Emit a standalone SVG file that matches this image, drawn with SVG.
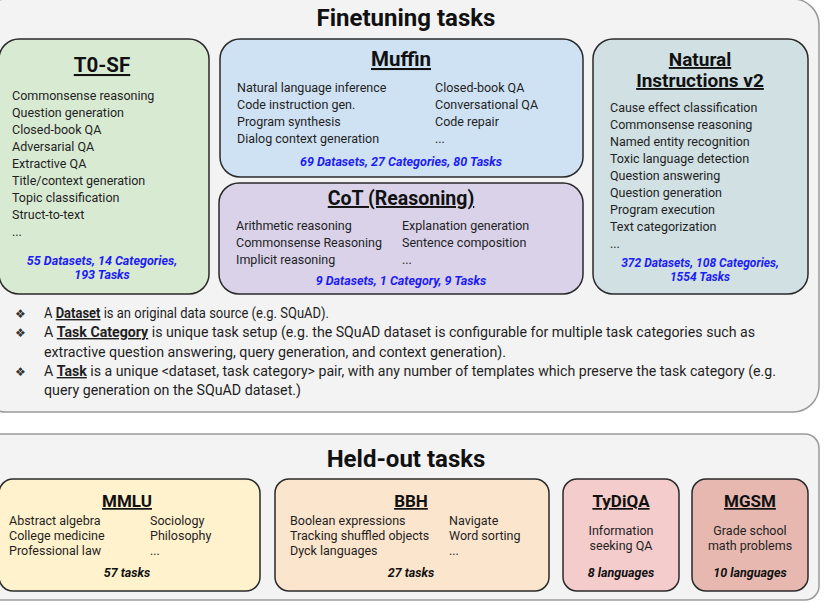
<svg xmlns="http://www.w3.org/2000/svg" width="826" height="603" viewBox="0 0 826 603">
<style>
text{font-family:Roboto,"Liberation Sans",Arial,sans-serif;fill:#1f1f1f}
.panel{fill:#f3f3f3;stroke:#9a9a9a;stroke-width:1.5}
.box{stroke:#2a2a2a;stroke-width:1.5}
.h1{font-size:24px;font-weight:bold;text-anchor:middle;fill:#111}
.h2{font-size:20.5px;font-weight:bold;text-anchor:middle;text-decoration:underline;fill:#111}
.h3{font-size:17px;font-weight:bold;text-anchor:middle;text-decoration:underline;fill:#111}
.it{font-size:12.5px}
.st{font-size:12.5px;font-weight:bold;font-style:italic;fill:#1c1cf5;text-anchor:middle}
.bt{font-size:14px}
.b{font-weight:bold;text-decoration:underline}
.bul{font-family:"DejaVu Sans",sans-serif;font-size:12px;fill:#333}
.ho{font-size:12.5px;font-weight:bold;font-style:italic;text-anchor:middle;fill:#111}
.c{text-anchor:middle}
</style>
<g id="finetuning-panel">
<rect class="panel" x="-20" y="-1" width="839" height="413" rx="26"/>
<text class="h1" x="406" y="26">Finetuning tasks</text>
</g>
<g id="t0sf">
<rect class="box" x="-1" y="39" width="210" height="255" rx="20" fill="#d9ead3"/>
<text class="h2" x="102" y="72">T0-SF</text>
<text class="it" x="12" y="100">Commonsense reasoning</text>
<text class="it" x="12" y="117">Question generation</text>
<text class="it" x="12" y="134">Closed-book QA</text>
<text class="it" x="12" y="151">Adversarial QA</text>
<text class="it" x="12" y="168">Extractive QA</text>
<text class="it" x="12" y="185">Title/context generation</text>
<text class="it" x="12" y="202">Topic classification</text>
<text class="it" x="12" y="219">Struct-to-text</text>
<text class="it" x="12" y="236">...</text>
<text class="st" x="102" y="265">55 Datasets, 14 Categories,</text>
<text class="st" x="102" y="279">193 Tasks</text>
</g>
<g id="muffin">
<rect class="box" x="220" y="39" width="363" height="138" rx="20" fill="#cfe2f3"/>
<text class="h2" x="401" y="66">Muffin</text>
<text class="it" x="237" y="92">Natural language inference</text>
<text class="it" x="237" y="109">Code instruction gen.</text>
<text class="it" x="237" y="126">Program synthesis</text>
<text class="it" x="237" y="143">Dialog context generation</text>
<text class="it" x="435" y="92">Closed-book QA</text>
<text class="it" x="435" y="109">Conversational QA</text>
<text class="it" x="435" y="126">Code repair</text>
<text class="it" x="435" y="143">...</text>
<text class="st" x="401" y="166">69 Datasets, 27 Categories, 80 Tasks</text>
</g>
<g id="cot">
<rect class="box" x="219" y="183" width="364" height="111" rx="20" fill="#d9d2e9"/>
<text class="h2" x="401" y="205" style="font-size:19.5px">CoT (Reasoning)</text>
<text class="it" x="236" y="230">Arithmetic reasoning</text>
<text class="it" x="236" y="247">Commonsense Reasoning</text>
<text class="it" x="236" y="264">Implicit reasoning</text>
<text class="it" x="402" y="230">Explanation generation</text>
<text class="it" x="402" y="247">Sentence composition</text>
<text class="it" x="402" y="264">...</text>
<text class="st" x="401" y="285">9 Datasets, 1 Category, 9 Tasks</text>
</g>
<g id="natural-instructions">
<rect class="box" x="593" y="39" width="215" height="255" rx="20" fill="#d0e0e3"/>
<text class="h2" x="700" y="66" style="font-size:19px">Natural</text>
<text class="h2" x="700" y="87" style="font-size:19px">Instructions v2</text>
<text class="it" x="610" y="112">Cause effect classification</text>
<text class="it" x="610" y="129">Commonsense reasoning</text>
<text class="it" x="610" y="146">Named entity recognition</text>
<text class="it" x="610" y="163">Toxic language detection</text>
<text class="it" x="610" y="180">Question answering</text>
<text class="it" x="610" y="197">Question generation</text>
<text class="it" x="610" y="214">Program execution</text>
<text class="it" x="610" y="231">Text categorization</text>
<text class="it" x="610" y="248">...</text>
<text class="st" x="700" y="267" style="font-size:12px">372 Datasets, 108 Categories,</text>
<text class="st" x="700" y="281" style="font-size:12px">1554 Tasks</text>
</g>
<g id="definitions">
<text class="bul" x="15" y="318">❖</text>
<text class="bul" x="15" y="337">❖</text>
<text class="bul" x="15" y="376">❖</text>
<text class="bt" x="44" y="318" textLength="285" lengthAdjust="spacingAndGlyphs">A <tspan class="b">Dataset</tspan> is an original data source (e.g. SQuAD).</text>
<text class="bt" x="44" y="337" textLength="711" lengthAdjust="spacingAndGlyphs">A <tspan class="b">Task Category</tspan> is unique task setup (e.g. the SQuAD dataset is configurable for multiple task categories such as</text>
<text class="bt" x="44" y="357" textLength="462" lengthAdjust="spacingAndGlyphs">extractive question answering, query generation, and context generation).</text>
<text class="bt" x="44" y="376" textLength="732" lengthAdjust="spacingAndGlyphs">A <tspan class="b">Task</tspan> is a unique &lt;dataset, task category&gt; pair, with any number of templates which preserve the task category (e.g.</text>
<text class="bt" x="44" y="395" textLength="257" lengthAdjust="spacingAndGlyphs">query generation on the SQuAD dataset.)</text>
</g>
<g id="heldout-panel">
<rect class="panel" x="-20" y="434" width="839" height="166" rx="14"/>
<text class="h1" x="406" y="467">Held-out tasks</text>
</g>
<g id="mmlu">
<rect class="box" x="-1" y="479" width="261" height="112" rx="14" fill="#fff2cc"/>
<text class="h3" x="127" y="507">MMLU</text>
<text class="it" x="9" y="525">Abstract algebra</text>
<text class="it" x="9" y="540">College medicine</text>
<text class="it" x="9" y="555">Professional law</text>
<text class="it" x="150" y="525">Sociology</text>
<text class="it" x="150" y="540">Philosophy</text>
<text class="it" x="150" y="555">...</text>
<text class="ho" x="127" y="577">57 tasks</text>
</g>
<g id="bbh">
<rect class="box" x="275" y="479" width="274" height="112" rx="14" fill="#fce5cd"/>
<text class="h3" x="411" y="507">BBH</text>
<text class="it" x="290" y="525">Boolean expressions</text>
<text class="it" x="290" y="540">Tracking shuffled objects</text>
<text class="it" x="290" y="555">Dyck languages</text>
<text class="it" x="449" y="525">Navigate</text>
<text class="it" x="449" y="540">Word sorting</text>
<text class="it" x="449" y="555">...</text>
<text class="ho" x="411" y="577">27 tasks</text>
</g>
<g id="tydiqa">
<rect class="box" x="563" y="479" width="116" height="112" rx="14" fill="#f4cccc"/>
<text class="h3" x="621" y="507">TyDiQA</text>
<text class="it c" x="621" y="535">Information</text>
<text class="it c" x="621" y="550">seeking QA</text>
<text class="ho" x="621" y="577">8 languages</text>
</g>
<g id="mgsm">
<rect class="box" x="692" y="479" width="116" height="112" rx="14" fill="#e6b8af"/>
<text class="h3" x="750" y="507">MGSM</text>
<text class="it c" x="750" y="535">Grade school</text>
<text class="it c" x="750" y="550">math problems</text>
<text class="ho" x="750" y="577">10 languages</text>
</g>
<g id="connectors"/>
</svg>
